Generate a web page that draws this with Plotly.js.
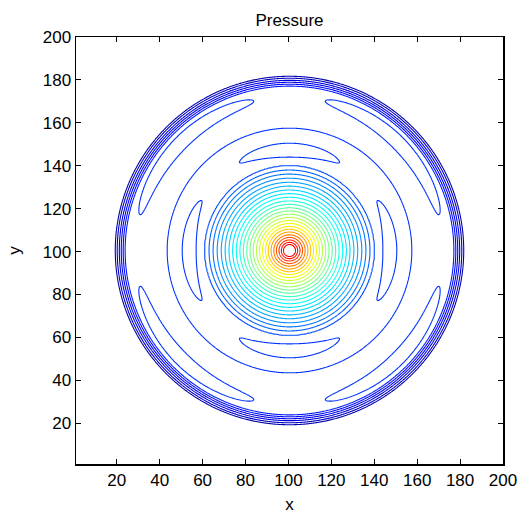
<!DOCTYPE html>
<html>
<head>
<meta charset="utf-8">
<script src="https://cdn.plot.ly/plotly-3.0.1.min.js"></script>
<style>html,body{margin:0;padding:0;background:#fff;}#chart{width:517px;height:514px;}</style>
</head>
<body>
<div id="chart"></div>
<script>
// ---- data ----
const chartTitle = 'Pressure';
const xLabel = 'x';
const yLabel = 'y';
const centerX = 100.5;
const centerY = 100.5;
const gridStart = 1;
const gridEnd = 200;
const gridStep = 0.5;       // grid spacing away from the peak
const fineStep = 0.15;      // grid spacing close to the peak
const fineHalfWidth = 16;

// circular contours around the peak: radius of each ring (outermost first) and its level
const ringRadii  = [39.5, 37.5, 35.6, 33.7, 31.8, 30.0, 28.2, 26.5, 24.8, 23.1, 21.5, 19.9, 18.4,
                    16.9, 15.4, 14.0, 12.6, 11.2, 9.9, 8.6, 7.3, 6.1, 4.9, 3.8, 2.8];
const ringLevels = [8, 9, 10, 11, 12, 13, 14, 15, 16, 17, 18, 19, 20,
                    21, 22, 23, 24, 25, 26, 27, 28, 29, 30, 31, 32];
const peakLevel = 32.6;

// radial profile along the x / y axis directions (crescents, plateau, outer ring cluster)
const axisRadii  = [39.5, 43.5, 47.0, 50.0, 53.5, 57.0, 62.0, 68.0, 73.0, 75.8, 76.6, 77.5, 78.4, 79.3, 80.3, 81.2, 82.5, 150];
const axisLevels = [8.0,  7.0,  6.8,  7.0,  7.25, 7.0,  6.85, 6.88, 6.9,  6.8,  6.0,  5.0,  4.0,  3.0,  2.0,  1.0,  0.0,  0.0];
// radial profile along the diagonal directions (islands near the outer rings)
const diagRadii  = [39.5, 43.5, 47.0, 50.0, 53.5, 57.0, 62.0, 68.0, 71.5, 74.5, 75.8, 76.6, 77.5, 78.4, 79.3, 80.3, 81.2, 82.5, 150];
const diagLevels = [8.0,  7.3,  7.07, 7.07, 7.1,  7.0,  6.8,  7.0,  7.4,  7.0,  6.8,  6.0,  5.0,  4.0,  3.0,  2.0,  1.0,  0.0,  0.0];

const contourStart = 1;
const contourEnd = 32;
const contourStep = 1;

const tickValues = [20, 40, 60, 80, 100, 120, 140, 160, 180, 200];
const tickLabels = ['20', '40', '60', '80', '100', '120', '140', '160', '180', '200'];

// ---- helpers: monotone cubic interpolation of the read profiles ----
function pchip(xs, ys) {
  const n = xs.length, h = [], del = [], d = new Array(n);
  for (let i = 0; i < n - 1; i++) { h[i] = xs[i + 1] - xs[i]; del[i] = (ys[i + 1] - ys[i]) / h[i]; }
  for (let i = 1; i < n - 1; i++) {
    if (del[i - 1] * del[i] <= 0) d[i] = 0;
    else {
      const w1 = 2 * h[i] + h[i - 1], w2 = h[i] + 2 * h[i - 1];
      d[i] = (w1 + w2) / (w1 / del[i - 1] + w2 / del[i]);
    }
  }
  d[0] = 0; d[n - 1] = 0;
  return function (x) {
    if (x <= xs[0]) return ys[0];
    if (x >= xs[n - 1]) return ys[n - 1];
    let i = 0;
    while (i < n - 2 && x > xs[i + 1]) i++;
    const t = (x - xs[i]) / h[i], t2 = t * t, t3 = t2 * t;
    return (2 * t3 - 3 * t2 + 1) * ys[i] + (t3 - 2 * t2 + t) * h[i] * d[i] +
           (-2 * t3 + 3 * t2) * ys[i + 1] + (t3 - t2) * h[i] * d[i + 1];
  };
}

const coreR = [0].concat(ringRadii.slice().reverse());
const coreZ = [peakLevel].concat(ringLevels.slice().reverse());
const coreF = pchip(coreR, coreZ);
const axisF = pchip(axisRadii, axisLevels);
const diagF = pchip(diagRadii, diagLevels);
const innerEdge = ringRadii[0];

function gridAxis(c) {
  const out = [];
  let v = gridStart;
  while (v < c - fineHalfWidth) { out.push(+v.toFixed(4)); v += gridStep; }
  v = c - fineHalfWidth;
  while (v < c + fineHalfWidth) { out.push(+v.toFixed(4)); v += fineStep; }
  v = c + fineHalfWidth;
  while (v <= gridEnd + 1e-9) { out.push(+v.toFixed(4)); v += gridStep; }
  return out;
}
const xs = gridAxis(centerX), ys = gridAxis(centerY);
const z = ys.map(function (yv) {
  return xs.map(function (xv) {
    const dx = xv - centerX, dy = yv - centerY;
    const r = Math.sqrt(dx * dx + dy * dy);
    if (r <= innerEdge) return coreF(r);
    const th = Math.atan2(dy, dx);
    const w = 0.5 * (1 + Math.cos(4 * th));
    return w * axisF(r) + (1 - w) * diagF(r);
  });
});

// MATLAB-like jet colours for the contour levels
const jetPart = [
  [0.000, 'rgb(0,0,172)'],
  [0.120, 'rgb(0,0,255)'],
  [0.484, 'rgb(0,255,255)'],
  [0.758, 'rgb(255,255,0)'],
  [0.980, 'rgb(255,0,0)'],
  [1.000, 'rgb(240,0,0)']
];

const font = 'Liberation Sans, Arial, Helvetica, sans-serif';

const trace = {
  type: 'contour',
  x: xs, y: ys, z: z,
  autocontour: false,
  contours: { start: contourStart, end: contourEnd, size: contourStep, coloring: 'lines', showlines: true },
  line: { width: 1.1, smoothing: 0 },
  colorscale: jetPart,
  showscale: false,
  hoverinfo: 'skip'
};

function axisStyle(titleText, standoff) {
  return {
    range: [gridStart, gridEnd],
    tickmode: 'array', tickvals: tickValues, ticktext: tickLabels,
    ticks: 'inside', ticklen: 5, tickwidth: 1, tickcolor: '#000',
    showline: true, linecolor: '#000', linewidth: 1.5, mirror: 'allticks',
    showgrid: false, zeroline: false, ticklabeloverflow: 'allow',
    tickfont: { family: font, size: 17, color: '#000' },
    title: { text: titleText, font: { family: font, size: 17, color: '#000' }, standoff: standoff },
    automargin: false, fixedrange: true
  };
}

const layout = {
  width: 517, height: 514,
  margin: { l: 76, r: 14, t: 37, b: 50, pad: 0 },
  paper_bgcolor: '#fff', plot_bgcolor: '#fff',
  showlegend: false,
  title: { text: chartTitle, font: { family: font, size: 17, color: '#000' },
           xref: 'paper', x: 0.5, xanchor: 'center', yref: 'container', y: 1 - 20 / 514, yanchor: 'middle' },
  xaxis: axisStyle(xLabel, 26),
  yaxis: axisStyle(yLabel, 18)
};

Plotly.newPlot('chart', [trace], layout, { staticPlot: true, displayModeBar: false });
</script>
</body>
</html>
